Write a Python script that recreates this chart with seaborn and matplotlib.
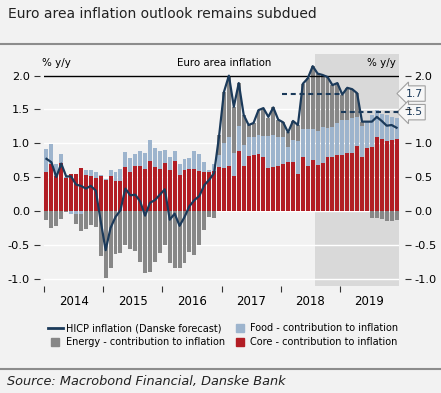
import numpy as np
import pandas as pd
import matplotlib
matplotlib.use('Agg')
import matplotlib.pyplot as plt
import matplotlib.transforms as mtransforms
from matplotlib.lines import Line2D
import seaborn as sns

# monthly contributions to euro area HICP, Jan 2014 - Dec 2019 (% y/y)
years = ['2014', '2015', '2016', '2017', '2018', '2019']
months = pd.period_range('2014-01', '2019-12', freq='M')
forecast_from = '2018-08'

core = [0.57, 0.69, 0.51, 0.71, 0.48, 0.54, 0.55, 0.64, 0.53, 0.51, 0.48, 0.52,
        0.45, 0.51, 0.44, 0.44, 0.65, 0.57, 0.67, 0.66, 0.62, 0.74, 0.65, 0.62,
        0.71, 0.61, 0.74, 0.53, 0.61, 0.62, 0.62, 0.59, 0.58, 0.57, 0.59, 0.65,
        0.64, 0.66, 0.51, 0.89, 0.66, 0.81, 0.83, 0.84, 0.79, 0.63, 0.65, 0.66,
        0.70, 0.72, 0.73, 0.55, 0.80, 0.66, 0.75, 0.68, 0.71, 0.79, 0.79, 0.83,
        0.82, 0.85, 0.86, 0.96, 0.79, 0.93, 0.95, 1.09, 1.07, 1.04, 1.05, 1.06]
food = [0.34, 0.30, 0.19, 0.13, 0.02, -0.04, -0.05, -0.05, 0.07, 0.10, 0.10, 0.01,
        0.02, 0.10, 0.13, 0.18, 0.22, 0.21, 0.17, 0.22, 0.24, 0.31, 0.28, 0.26,
        0.19, 0.18, 0.14, 0.16, 0.16, 0.16, 0.27, 0.25, 0.14, 0.04, 0.10, 0.18,
        0.37, 0.44, 0.35, 0.36, 0.32, 0.28, 0.27, 0.28, 0.32, 0.48, 0.47, 0.44,
        0.39, 0.22, 0.32, 0.48, 0.41, 0.55, 0.46, 0.50, 0.53, 0.43, 0.45, 0.47,
        0.52, 0.49, 0.51, 0.43, 0.46, 0.39, 0.47, 0.40, 0.37, 0.38, 0.34, 0.31]
energy = [-0.13, -0.25, -0.22, -0.12, -0.01, 0.01, -0.15, -0.24, -0.26, -0.21, -0.24, -0.67,
          -0.99, -0.85, -0.63, -0.62, -0.51, -0.56, -0.59, -0.75, -0.92, -0.90, -0.76, -0.62,
          -0.50, -0.77, -0.84, -0.84, -0.77, -0.60, -0.65, -0.50, -0.28, -0.09, -0.11, 0.29,
          0.75, 0.89, 0.68, 0.64, 0.44, 0.18, 0.20, 0.37, 0.39, 0.27, 0.41, 0.24,
          0.23, 0.23, 0.28, 0.24, 0.67, 0.75, 0.93, 0.85, 0.77, 0.76, 0.62, 0.59,
          0.38, 0.48, 0.43, 0.35, 0.07, 0.00, -0.10, -0.10, -0.12, -0.15, -0.15, -0.14]
hicp = [0.77, 0.72, 0.50, 0.70, 0.51, 0.51, 0.39, 0.37, 0.33, 0.37, 0.30, -0.15,
        -0.58, -0.25, -0.09, 0.01, 0.33, 0.23, 0.24, 0.14, -0.07, 0.12, 0.16, 0.24,
        0.32, -0.13, -0.04, -0.22, -0.09, 0.07, 0.16, 0.22, 0.38, 0.46, 0.56, 1.10,
        1.76, 2.00, 1.54, 1.89, 1.42, 1.27, 1.30, 1.49, 1.52, 1.39, 1.53, 1.35,
        1.31, 1.16, 1.33, 1.27, 1.88, 1.96, 2.14, 2.03, 2.01, 1.98, 1.86, 1.89,
        1.72, 1.82, 1.80, 1.74, 1.32, 1.32, 1.32, 1.39, 1.33, 1.26, 1.27, 1.23]

RED = '#b21d24'
FOOD = '#9db4cd'
ENERGY = '#878787'
NAVY = '#1b3a5a'
BG = '#f2f2f2'
SHADE = '#d9d9d9'

df = pd.DataFrame({'month': months, 'core': core, 'food': food,
                   'energy': energy, 'hicp': hicp})
df['pos'] = np.arange(len(df))
df['year'] = df['month'].dt.year
# cumulative tops so the bars can be layered from zero
df['food_top'] = df['core'] + df['food'].clip(lower=0)
df['energy_top'] = df['food_top'] + df['energy'].clip(lower=0)
df['food_neg'] = df['food'].clip(upper=0)
df['energy_neg'] = df['food_neg'] + df['energy'].clip(upper=0)

plt.rcParams['font.family'] = ['DejaVu Sans']
fig = plt.figure(figsize=(4.41, 3.93), dpi=100, facecolor=BG)
ax = fig.add_axes([44 / 441, 107 / 393, 355 / 441, 232 / 393])
ax.set_facecolor(BG)

start = df.index[df['month'] == pd.Period(forecast_from, 'M')][0]
ax.axvspan(start - 0.5, len(df) - 0.5, color=SHADE, zorder=0, lw=0)

bar_kw = dict(x='pos', width=0.8, saturation=1, errorbar=None, linewidth=0, ax=ax)
sns.barplot(data=df, y='energy_top', color=ENERGY, **bar_kw)
sns.barplot(data=df, y='food_top', color=FOOD, **bar_kw)
sns.barplot(data=df, y='core', color=RED, **bar_kw)
sns.barplot(data=df, y='energy_neg', color=ENERGY, **bar_kw)
sns.barplot(data=df, y='food_neg', color=FOOD, **bar_kw)
sns.lineplot(data=df, x='pos', y='hicp', color=NAVY, lw=1.6, ax=ax, zorder=5)

# yearly averages (dashed)
for yr in (2018, 2019):
    sub = df[df['year'] == yr]
    avg = sub['hicp'].mean()
    ax.hlines(avg, sub['pos'].min() - 0.3, sub['pos'].max() + 0.5, color=NAVY,
              lw=1.5, linestyles=(0, (2.4, 1.8)), zorder=4)
    ax.text(1.018, avg, f'{avg:.1f}', transform=mtransforms.blended_transform_factory(ax.transAxes, ax.transData),
            ha='left', va='center', fontsize=7.8, color=NAVY, clip_on=False,
            bbox=dict(boxstyle='larrow,pad=0.25', fc='#f7f7f7', ec='#a0a0a0', lw=0.8))

ax.axhline(2.0, color='black', lw=1, zorder=3)
ax.set_xlim(-0.5, len(df) - 0.5)
ax.set_ylim(-1.11, 2.32)
yt = [-1.0, -0.5, 0.0, 0.5, 1.0, 1.5, 2.0]
ax.set_yticks(yt)
ax.set_yticklabels([f'{v:.1f}' for v in yt])
ax.grid(axis='y', color='white', lw=1)
ax.grid(axis='x', visible=False)
ax.set_axisbelow(True)
for s in ax.spines.values():
    s.set_visible(False)
ax.spines['left'].set_position(('outward', 3))
ax.tick_params(axis='y', length=4.5, width=0.8, color='#333333', pad=2.5, labelsize=8.2)
ax.set_ylabel('')
ax.set_xlabel('')

# year ticks at year boundaries, labels in between
ax.set_xticks([12 * i - 0.5 for i in range(len(years))])
ax.set_xticklabels([])
ax.set_xticks([12 * i + 5.5 for i in range(len(years))], minor=True)
ax.set_xticklabels(years, minor=True)
ax.tick_params(axis='x', which='major', length=4, width=0.8, color='#333333')
ax.tick_params(axis='x', which='minor', length=0, pad=6.5, labelsize=8.5)

ax2 = ax.twinx()
ax2.set_ylim(ax.get_ylim())
ax2.set_yticks(yt)
ax2.set_yticklabels(['' if v == 1.5 else f'{v:.1f}' for v in yt])
for s in ax2.spines.values():
    s.set_visible(False)
ax2.spines['right'].set_position(('outward', 4))
ax2.tick_params(axis='y', length=4.5, width=0.8, color='#333333', pad=2.5, labelsize=8.2)

ax.text(-0.005, 0.962, '% y/y', transform=ax.transAxes, ha='left', va='center', fontsize=7.4)
ax.text(0.992, 0.962, '% y/y', transform=ax.transAxes, ha='right', va='center', fontsize=7.4)
ax.text(0.508, 0.962, 'Euro area inflation', transform=ax.transAxes, ha='center', va='center', fontsize=7.4)

fig.text(8 / 441, 1 - 14 / 393, 'Euro area inflation outlook remains subdued',
         ha='left', va='center', fontsize=10, color='#222222')
fig.add_artist(Line2D([0, 1], [1 - 44 / 393] * 2, color='#8c8c8c', lw=1.5, transform=fig.transFigure))
fig.add_artist(Line2D([0, 1], [1 - 369 / 393] * 2, color='#8c8c8c', lw=1.5, transform=fig.transFigure))
fig.text(7 / 441, 1 - 382 / 393, 'Source: Macrobond Financial, Danske Bank',
         ha='left', va='center', fontsize=9.3, style='italic', color='#222222')

handles = [Line2D([], [], color=NAVY, lw=2),
           Line2D([], [], marker='s', ls='none', ms=6, color=ENERGY),
           Line2D([], [], marker='s', ls='none', ms=6, color=FOOD),
           Line2D([], [], marker='s', ls='none', ms=6, color=RED)]
labels = ['HICP inflation (Danske forecast)', 'Energy - contribution to inflation',
          'Food - contribution to inflation', 'Core - contribution to inflation']
fig.legend(handles, labels, ncol=2, loc='center', bbox_to_anchor=(0.506, 1 - 335 / 393),
           frameon=False, fontsize=7.0, handlelength=1.5, handletextpad=0.3,
           columnspacing=0.8, labelspacing=0.4)

fig.savefig('out.png', dpi=100, facecolor=BG)
